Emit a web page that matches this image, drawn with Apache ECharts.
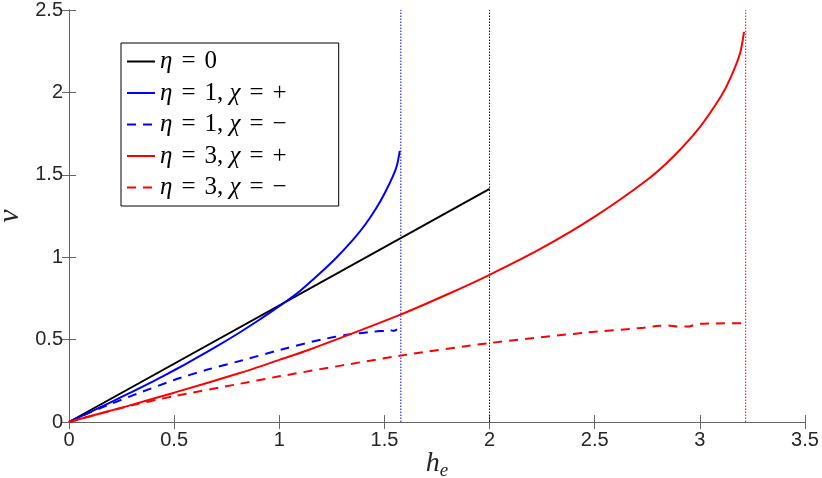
<!DOCTYPE html>
<html>
<head>
<meta charset="utf-8"/>
<title>v vs h_e</title>
<script src="https://cdn.jsdelivr.net/npm/echarts@6/dist/echarts.min.js"></script>
<style>
html,body{margin:0;padding:0;background:#fff;}
#main{width:822px;height:478px;}
</style>
</head>
<body>
<div id="main"></div>
<script>
// data: [h_e, v]
var eta0 = [[0, 0], [2.0, 1.414]];
var eta1Plus = [[0,0],[0.1,0.06],[0.2,0.121],[0.3,0.183],[0.4,0.247],[0.5,0.314],[0.6,0.384],[0.7,0.457],[0.8,0.534],[0.9,0.616],[1.0,0.703],[1.1,0.797],[1.2,0.91],[1.27,0.995],[1.35,1.105],[1.41,1.2],[1.46,1.295],[1.5,1.385],[1.54,1.49],[1.56,1.56],[1.573,1.645]];
var eta1Minus = [[0,0],[0.1,0.058],[0.2,0.11],[0.3,0.16],[0.5,0.255],[0.65,0.315],[0.812,0.37],[1.034,0.448],[1.2,0.5],[1.32,0.529],[1.45,0.548],[1.5,0.553],[1.53,0.556],[1.545,0.553],[1.56,0.562]];
var eta3Plus = [[0,0],[0.273,0.095],[0.5,0.178],[0.812,0.297],[1.0,0.377],[1.145,0.44],[1.573,0.65],[1.795,0.772],[2.0,0.893],[2.25,1.056],[2.5,1.246],[2.75,1.47],[2.873,1.61],[3.0,1.79],[3.1,1.975],[3.143,2.08],[3.191,2.236],[3.21,2.367]];
var eta3Minus = [[0,0],[0.273,0.093],[0.5,0.157],[0.812,0.232],[1.0,0.277],[1.573,0.402],[2.0,0.479],[2.461,0.543],[2.715,0.57],[2.81,0.584],[2.85,0.585],[2.89,0.579],[2.95,0.58],[2.985,0.594],[3.064,0.598],[3.207,0.6]];
var vLineX = [1.578, 2.0, 3.218];
var vLineColor = ['#0000ff', '#000000', '#ff0000'];
var names = ['η = 0', 'η = 1, χ = +', 'η = 1, χ = −', 'η = 3, χ = +', 'η = 3, χ = −'];
var richNames = [
    '{m|η}{e|=}{r|0}',
    '{m|η}{e|=}{r|1, }{m|χ}{e|=}{r|+}',
    '{m|η}{e|=}{r|1, }{m|χ}{e|=}{r|−}',
    '{m|η}{e|=}{r|3, }{m|χ}{e|=}{r|+}',
    '{m|η}{e|=}{r|3, }{m|χ}{e|=}{r|−}'
];
var xMin = 0, xMax = 3.5, yMin = 0, yMax = 2.5, step = 0.5;

var axisCol = '#666';
var labelFont = {color:'#262626', fontSize:20, fontFamily:'Liberation Sans'};

function curve(name, data, color, dashed){
    return {
        name: name, type: 'line', data: data, symbol: 'none', smooth: 0.25,
        lineStyle: {color: color, width: 2, type: dashed ? [9, 7] : 'solid'},
        itemStyle: {color: color},
        z: 3
    };
}

var series = [
    curve(names[0], eta0, '#000000', false),
    curve(names[1], eta1Plus, '#0000ff', false),
    curve(names[2], eta1Minus, '#0000ff', true),
    curve(names[3], eta3Plus, '#ff0000', false),
    curve(names[4], eta3Minus, '#ff0000', true)
];
for (var i = 0; i < vLineX.length; i++) {
    series.push({
        name: 'limit' + i, type: 'line', symbol: 'none',
        data: [[vLineX[i], yMin], [vLineX[i], yMax]],
        lineStyle: {color: vLineColor[i], width: 1, type: [1.5, 1.5]},
        z: 2
    });
}

var serifR = {fontFamily:'Liberation Serif', fontSize:25, color:'#000', lineHeight:22};
var myChart = echarts.init(document.getElementById('main'));
var option = {
    animation: false,
    grid: {left: 69, right: 17, top: 10, bottom: 56, containLabel: false, outerBoundsMode: 'none'},
    legend: {
        data: names,
        orient: 'vertical',
        left: 121, top: 43,
        padding: [6, 52, 6, 5],
        itemWidth: 28, itemHeight: 14, itemGap: 6.5,
        itemStyle: {opacity: 0},
        borderColor: '#000', borderWidth: 1, backgroundColor: '#fff',
        formatter: function(name){ return richNames[names.indexOf(name)]; },
        textStyle: {
            rich: {
                m: Object.assign({}, serifR, {fontStyle:'italic'}),
                r: serifR,
                e: Object.assign({}, serifR, {padding:[0, 9, 0, 9]})
            }
        }
    },
    xAxis: [{
        type: 'value', min: xMin, max: xMax, interval: step,
        name: '{h|h}{e|e}', nameLocation: 'middle', nameGap: 25, nameMoveOverlap: false,
        nameTextStyle: {rich: {
            h: {fontFamily:'Liberation Serif', fontStyle:'italic', fontSize:28, color:'#262626'},
            e: {fontFamily:'Liberation Serif', fontStyle:'italic', fontSize:19, color:'#262626', padding:[14,0,0,0]}
        }},
        axisLine: {lineStyle: {color: axisCol, width: 1}},
        axisTick: {inside: true, length: 7, lineStyle: {color: axisCol}},
        axisLabel: Object.assign({margin: 8}, labelFont),
        splitLine: {show: false}
    }, {
        type: 'value', min: xMin, max: xMax, interval: step, position: 'top',
        axisLine: {lineStyle: {color: axisCol, width: 1}},
        axisTick: {inside: true, length: 7, lineStyle: {color: axisCol}},
        axisLabel: {show: false}, splitLine: {show: false}
    }],
    yAxis: [{
        type: 'value', min: yMin, max: yMax, interval: step,
        name: 'v', nameLocation: 'middle', nameGap: 44, nameMoveOverlap: false,
        nameTextStyle: {fontFamily:'Liberation Serif', fontStyle:'italic', fontSize:30, color:'#262626'},
        axisLine: {lineStyle: {color: axisCol, width: 1}},
        axisTick: {inside: true, length: 7, lineStyle: {color: axisCol}},
        axisLabel: Object.assign({margin: 6}, labelFont),
        splitLine: {show: false}
    }, {
        type: 'value', min: yMin, max: yMax, interval: step, position: 'right',
        axisLine: {lineStyle: {color: axisCol, width: 1}},
        axisTick: {inside: true, length: 7, lineStyle: {color: axisCol}},
        axisLabel: {show: false}, splitLine: {show: false}
    }],
    series: series
};
myChart.setOption(option);
</script>
</body>
</html>
